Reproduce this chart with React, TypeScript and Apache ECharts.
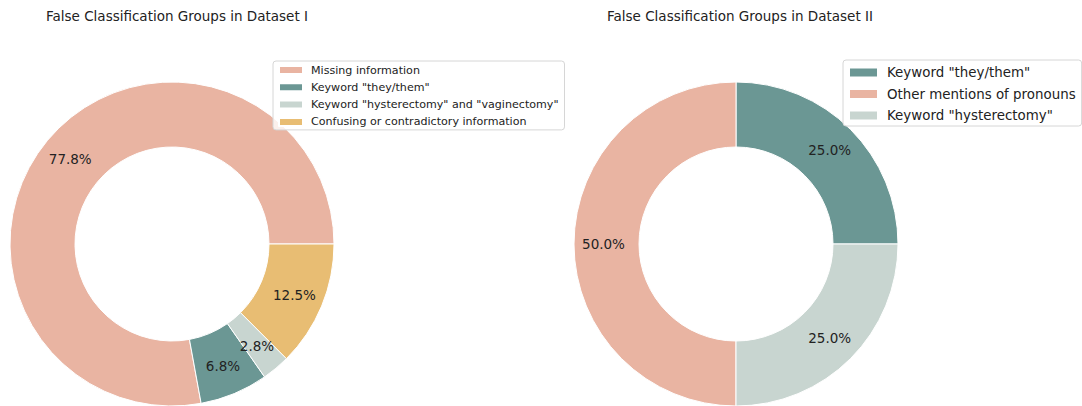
import React, { useEffect, useRef } from "react";
import * as echarts from "echarts";

const leftNames = [
  "Missing information",
  'Keyword "they/them"',
  'Keyword "hysterectomy" and "vaginectomy"',
  "Confusing or contradictory information",
];
const leftValues = [77.8, 6.8, 2.8, 12.5];
const leftColors = ["#E9B4A2", "#6B9794", "#C8D5D0", "#E8BD73"];

const rightNames = [
  'Keyword "they/them"',
  "Other mentions of pronouns",
  'Keyword "hysterectomy"',
];
const rightValues = [25.0, 50.0, 25.0];
const rightColors = ["#6B9794", "#E9B4A2", "#C8D5D0"];

const titles = [
  "False Classification Groups in Dataset I",
  "False Classification Groups in Dataset II",
];

const FONT = "DejaVu Sans";

export default function App() {
  const ref = useRef<HTMLDivElement>(null);
  useEffect(() => {
    document.body.style.margin = "0";
    const chart = echarts.init(ref.current!, null, { renderer: "svg" });
    const mkSeries = (names: string[], values: number[], colors: string[], cx: number) => ({
      type: "pie",
      center: [cx, 244],
      radius: [97, 162],
      startAngle: 0,
      clockwise: false,
      avoidLabelOverlap: false,
      silent: true,
      itemStyle: { borderColor: "#fff", borderWidth: 1 },
      label: {
        show: true,
        position: "inside",
        formatter: (p: any) => p.value.toFixed(1) + "%",
        color: "#222",
        fontSize: 13.5,
        fontFamily: FONT,
      },
      labelLine: { show: false },
      data: names.map((n, i) => ({ name: n, value: values[i], itemStyle: { color: colors[i] } })),
    });
    chart.setOption({
      animation: false,
      backgroundColor: "#fff",
      title: [
        { text: titles[0], left: 46, top: 9, padding: 0, textStyle: { fontSize: 13.5, fontWeight: "normal", color: "#222", fontFamily: FONT } },
        { text: titles[1], left: 607, top: 9, padding: 0, textStyle: { fontSize: 13.5, fontWeight: "normal", color: "#222", fontFamily: FONT } },
      ],
      legend: [
        {
          data: leftNames,
          orient: "vertical",
          left: 273,
          top: 61,
          icon: "rect",
          itemWidth: 24,
          itemHeight: 8,
          itemGap: 3.3,
          padding: [2, 6, 1, 5],
          borderColor: "#d6d6d6",
          borderWidth: 1,
          borderRadius: 3,
          backgroundColor: "rgba(255,255,255,0.8)",
          selectedMode: false,
          textStyle: { fontSize: 11.1, lineHeight: 14, color: "#222", fontFamily: FONT, padding: [0, 0, 0, 3] },
        },
        {
          data: rightNames,
          orient: "vertical",
          left: 843,
          top: 60,
          icon: "rect",
          itemWidth: 29,
          itemHeight: 10,
          itemGap: 4.5,
          padding: [4, 6, 2, 5],
          borderColor: "#d6d6d6",
          borderWidth: 1,
          borderRadius: 3,
          backgroundColor: "rgba(255,255,255,0.8)",
          selectedMode: false,
          textStyle: { fontSize: 13.4, lineHeight: 17, color: "#222", fontFamily: FONT, padding: [0, 0, 0, 4] },
        },
      ],
      series: [
        mkSeries(leftNames, leftValues, leftColors, 172),
        mkSeries(rightNames, rightValues, rightColors, 736),
      ],
    });
    return () => chart.dispose();
  }, []);
  return <div ref={ref} style={{ width: 1082, height: 406 }} />;
}
